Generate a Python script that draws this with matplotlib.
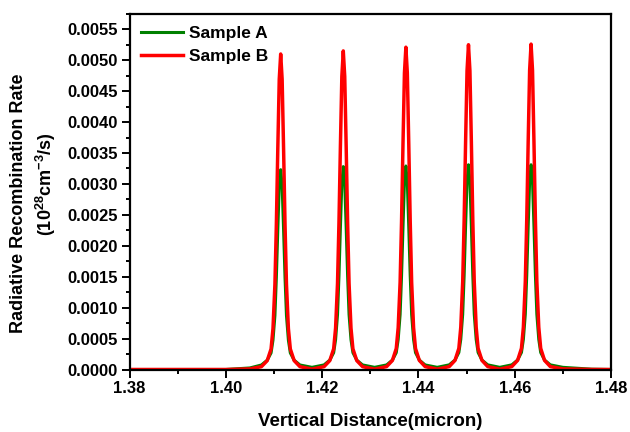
import numpy as np
import matplotlib
matplotlib.use("Agg")
import matplotlib.pyplot as plt
from matplotlib.ticker import MultipleLocator, FormatStrFormatter

# x positions (micron)
x_micron = [
    1.3800, 1.4000, 1.4050,
    1.4074, 1.4086, 1.4094, 1.4098, 1.4102, 1.4105, 1.4108, 1.4111, 1.4114, 1.4117, 1.4120, 1.4123, 1.4126, 1.4130, 1.4134, 1.4142, 1.4154,
    1.4179,
    1.4204, 1.4216, 1.4224, 1.4228, 1.4232, 1.4235, 1.4238, 1.4241, 1.4244, 1.4247, 1.4250, 1.4253, 1.4256, 1.4260, 1.4264, 1.4272, 1.4284,
    1.4309,
    1.4334, 1.4346, 1.4354, 1.4358, 1.4362, 1.4365, 1.4368, 1.4371, 1.4374, 1.4377, 1.4380, 1.4383, 1.4386, 1.4390, 1.4394, 1.4402, 1.4414,
    1.4439,
    1.4464, 1.4476, 1.4484, 1.4488, 1.4492, 1.4495, 1.4498, 1.4501, 1.4504, 1.4507, 1.4510, 1.4513, 1.4516, 1.4520, 1.4524, 1.4532, 1.4544,
    1.4569,
    1.4594, 1.4606, 1.4614, 1.4618, 1.4622, 1.4625, 1.4628, 1.4631, 1.4634, 1.4637, 1.4640, 1.4643, 1.4646, 1.4650, 1.4654, 1.4662, 1.4674,
    1.4700, 1.4760, 1.4800,
]

# Sample A rate, in units of 1e-3 (x 10^28 cm^-3/s)
sample_a_milli = [
    0.000, 0.000, 0.025,
    0.073, 0.150, 0.268, 0.475, 0.872, 1.486, 2.261, 2.971, 3.230, 2.971, 2.261, 1.486, 0.872, 0.475, 0.268, 0.150, 0.073,
    0.035,
    0.074, 0.152, 0.272, 0.482, 0.886, 1.509, 2.296, 3.017, 3.280, 3.017, 2.296, 1.509, 0.886, 0.482, 0.272, 0.152, 0.074,
    0.035,
    0.074, 0.152, 0.273, 0.484, 0.888, 1.514, 2.303, 3.027, 3.290, 3.027, 2.303, 1.514, 0.888, 0.484, 0.273, 0.152, 0.074,
    0.035,
    0.075, 0.153, 0.275, 0.487, 0.894, 1.523, 2.317, 3.045, 3.310, 3.045, 2.317, 1.523, 0.894, 0.487, 0.275, 0.153, 0.075,
    0.035,
    0.075, 0.153, 0.275, 0.487, 0.894, 1.523, 2.317, 3.045, 3.310, 3.045, 2.317, 1.523, 0.894, 0.487, 0.275, 0.153, 0.075,
    0.035, 0.005, 0.000,
]

# Sample B rate, in units of 1e-3
sample_b_milli = [
    0.000, 0.000, 0.010,
    0.046, 0.143, 0.332, 0.663, 1.377, 2.346, 3.570, 4.692, 5.100, 4.692, 3.570, 2.346, 1.377, 0.663, 0.332, 0.143, 0.046,
    0.006,
    0.046, 0.144, 0.335, 0.670, 1.391, 2.369, 3.605, 4.738, 5.150, 4.738, 3.605, 2.369, 1.391, 0.670, 0.335, 0.144, 0.046,
    0.006,
    0.047, 0.146, 0.339, 0.677, 1.407, 2.397, 3.647, 4.793, 5.210, 4.793, 3.647, 2.397, 1.407, 0.677, 0.339, 0.146, 0.047,
    0.006,
    0.047, 0.147, 0.341, 0.683, 1.418, 2.415, 3.675, 4.830, 5.250, 4.830, 3.675, 2.415, 1.418, 0.683, 0.341, 0.147, 0.047,
    0.006,
    0.047, 0.147, 0.342, 0.684, 1.420, 2.420, 3.682, 4.839, 5.260, 4.839, 3.682, 2.420, 1.420, 0.684, 0.342, 0.147, 0.047,
    0.010, 0.001, 0.000,
]

series_labels = ["Sample A", "Sample B"]
x_label = "Vertical Distance(micron)"
y_label_line1 = "Radiative Recombination Rate"
y_label_line2 = r"(10$^{\mathbf{28}}$cm$^{\mathbf{-3}}$/s)"

plt.rcParams['font.family'] = ['Liberation Sans', 'DejaVu Sans']
plt.rcParams['font.weight'] = 'bold'
plt.rcParams['mathtext.fontset'] = 'custom'
plt.rcParams['mathtext.rm'] = 'Liberation Sans:bold'
plt.rcParams['mathtext.bf'] = 'Liberation Sans:bold'
plt.rcParams['mathtext.it'] = 'Liberation Sans:bold'
plt.rcParams['mathtext.default'] = 'bf'

fig = plt.figure(figsize=(6.3, 4.32), dpi=100)
W, H = 630, 432
ax = fig.add_axes([129.5 / W, (H - 369.5) / H, 481.5 / W, 356 / H])

x = np.array(x_micron)
ya = np.array(sample_a_milli) * 1e-3
yb = np.array(sample_b_milli) * 1e-3

ax.plot(x, ya, color='#008000', lw=2.2, label=series_labels[0], solid_joinstyle='round')
ax.plot(x, yb, color='#ff0000', lw=2.5, label=series_labels[1], solid_joinstyle='round')

ax.set_xlim(1.38, 1.48)
ax.set_ylim(0, 0.005755)

ax.xaxis.set_major_locator(MultipleLocator(0.02))
ax.xaxis.set_minor_locator(MultipleLocator(0.01))
ax.yaxis.set_major_locator(MultipleLocator(0.0005))
ax.yaxis.set_minor_locator(MultipleLocator(0.00025))
ax.xaxis.set_major_formatter(FormatStrFormatter('%.2f'))
ax.yaxis.set_major_formatter(FormatStrFormatter('%.4f'))

ax.tick_params(which='both', direction='out', top=False, right=False, width=1.4)
ax.tick_params(which='major', length=5.5, labelsize=12, pad=3)
ax.tick_params(which='minor', length=3)
for lbl in ax.get_xticklabels() + ax.get_yticklabels():
    lbl.set_fontweight('bold')
for s in ax.spines.values():
    s.set_linewidth(1.6)

fig.text(370 / W, 1 - 421 / H, x_label, ha='center', va='center', fontsize=13.5, fontweight='bold')
fig.text(18.5 / W, 1 - 203 / H, y_label_line1, ha='center', va='center', rotation=90, fontsize=13, fontweight='bold')
fig.text(46 / W, 1 - 184 / H, y_label_line2, ha='center', va='center', rotation=90, fontsize=13, fontweight='bold')

leg = ax.legend(loc='upper left', bbox_to_anchor=((141 - 129.5) / 481.5, (369.5 - 26) / 356),
                frameon=False, fontsize=12.5, handlelength=2.4, handletextpad=0.35,
                labelspacing=0.42, borderpad=0, borderaxespad=0)
for t in leg.get_texts():
    t.set_fontweight('bold')

fig.savefig('out.png', dpi=100)
